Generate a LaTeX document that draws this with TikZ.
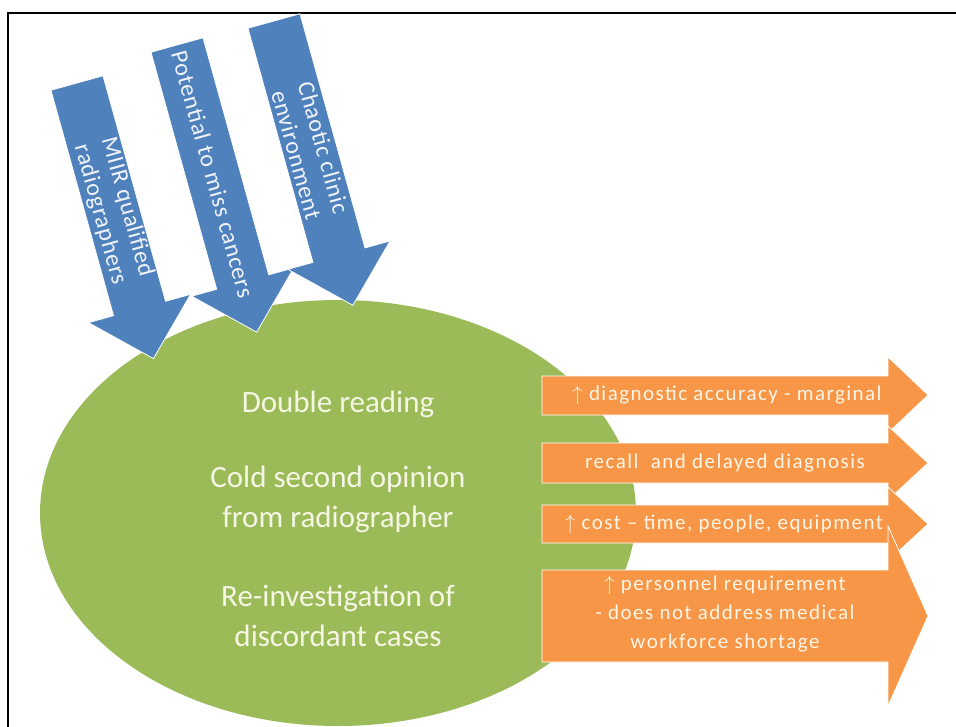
\documentclass[tikz,border=0pt]{standalone}
\usepackage{fontspec}
\setmainfont{Carlito}
\newfontfamily\widefont[LetterSpace=7]{Carlito}
\newfontfamily\slightwidefont[LetterSpace=3]{Carlito}
\begin{document}
\begin{tikzpicture}[x=1pt,y=-1pt,
  bluefill/.style={fill={rgb,255:red,79;green,129;blue,189}, draw=white, line width=0.8pt},
  orangefill/.style={fill={rgb,255:red,247;green,150;blue,70}, draw=white, line width=0.8pt},
  greenfill/.style={fill={rgb,255:red,155;green,187;blue,89}},
  bluetext/.style={text={rgb,255:red,240;green,244;blue,250}, font=\slightwidefont\fontsize{24}{28}\selectfont, align=center, inner sep=0pt, rotate=-74.5},
  centretext/.style={text={rgb,255:red,246;green,246;blue,228}, font=\fontsize{31}{40}\selectfont, align=center, inner sep=0pt},
  orangetext/.style={text={rgb,255:red,255;green,246;blue,232}, font=\widefont\fontsize{21}{29}\selectfont, align=center, inner sep=0pt}]
\useasboundingbox (0,0) rectangle (956,727);

% frame
\draw[line width=1.6pt] (8,727) -- (8,13) -- (956,13);

% central ellipse
\fill[greenfill] (338,513) ellipse [x radius=298, y radius=213];
\node[centretext] (dbl) at (338,404) {Double reading};
\node[centretext] (cold) at (338,499) {Cold second opinion\\from radiographer};
\node[centretext] (reinv) at (338,616) {Re-investigation of\\discordant cases};

% incoming blue arrows (shaft 54 wide, head 106 wide)
\begin{scope}[shift={(77,83)}, rotate=15.5]
  \fill[bluefill] (-27,0) -- (27,0) -- (27,234) -- (53,234) -- (0,286) -- (-53,234) -- (-27,234) -- cycle;
  \node[bluetext] (miir) at (1,133) {MIIR qualified\\radiographers};
\end{scope}
\begin{scope}[shift={(177,45)}, rotate=15.5]
  \fill[bluefill] (-27,0) -- (27,0) -- (27,246) -- (53,246) -- (0,298) -- (-53,246) -- (-27,246) -- cycle;
  \node[bluetext] (miss) at (0,134) {Potential to miss cancers};
\end{scope}
\begin{scope}[shift={(274,21)}, rotate=15.5]
  \fill[bluefill] (-27,0) -- (27,0) -- (27,243) -- (53,243) -- (0,295) -- (-53,243) -- (-27,243) -- cycle;
  \node[bluetext] (chaos) at (0,135) {Chaotic clinic\\environment};
\end{scope}

% outgoing orange arrows
\fill[orangefill] (542,376) -- (888,376) -- (888,357) -- (928,395) -- (888,433) -- (888,415) -- (542,415) -- cycle;
\fill[orangefill] (542,443) -- (888,443) -- (888,426) -- (928,463) -- (888,500) -- (888,483) -- (542,483) -- cycle;
\fill[orangefill] (542,505) -- (888,505) -- (888,487) -- (928,524) -- (888,561) -- (888,543) -- (542,543) -- cycle;
\fill[orangefill] (542,570) -- (888,570) -- (888,526) -- (928,616) -- (888,706) -- (888,662) -- (542,662) -- cycle;
\node[orangetext] (acc) at (727,395) {$\uparrow$ diagnostic accuracy - marginal};
\node[orangetext] (recall) at (725,463) {recall\ \ and delayed diagnosis};
\node[orangetext] (cost) at (724,524) {$\uparrow$ cost – time, people, equipment};
\node[orangetext] (staff) at (725,614) {$\uparrow$ personnel requirement\\- does not address medical\\workforce shortage};
\end{tikzpicture}
\end{document}
